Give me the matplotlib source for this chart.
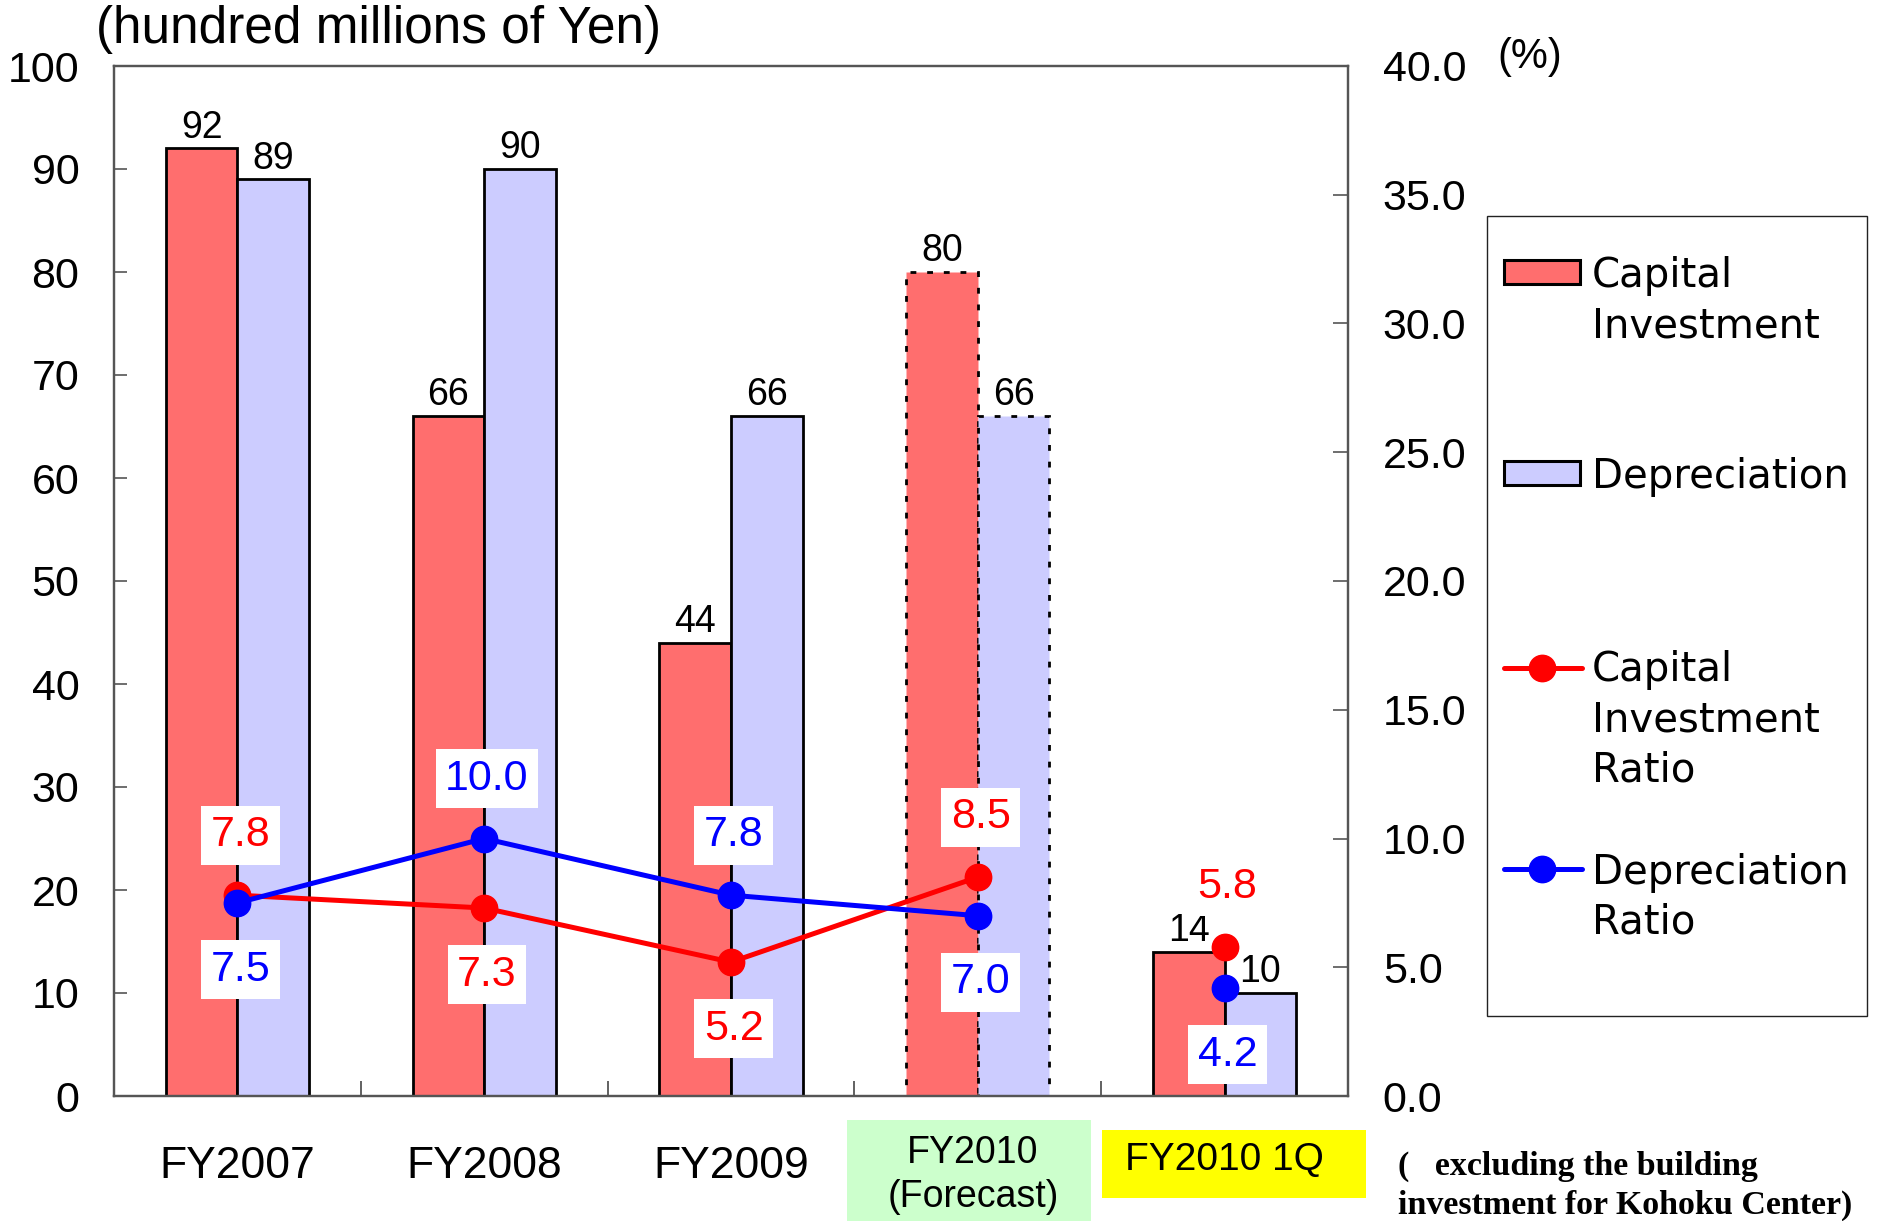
import numpy as np
import matplotlib
matplotlib.use("Agg")
import matplotlib.pyplot as plt
from matplotlib import font_manager as fm
from matplotlib.patches import Rectangle
from matplotlib.lines import Line2D
from matplotlib.transforms import blended_transform_factory
from matplotlib.ticker import FormatStrFormatter, FixedLocator

# ---- data -------------------------------------------------------------
categories = ["FY2007", "FY2008", "FY2009", "FY2010\n(Forecast)", "FY2010 1Q"]
capital_investment = [92, 66, 44, 80, 14]          # hundred millions of Yen
depreciation = [89, 90, 66, 66, 10]                # hundred millions of Yen
capital_investment_ratio = [7.8, 7.3, 5.2, 8.5, 5.8]   # %
depreciation_ratio = [7.5, 10.0, 7.8, 7.0, 4.2]        # %
forecast_index = 3
left_ticks = list(range(0, 101, 10))
right_ticks = [0, 5, 10, 15, 20, 25, 30, 35, 40]

# ---- fonts --------------------------------------------------------------
_names = {f.name for f in fm.fontManager.ttflist}
NARROW = "Liberation Sans Narrow" if "Liberation Sans Narrow" in _names else "Liberation Sans"
SANS = "Liberation Sans"
SERIF = "Liberation Serif"
plt.rcParams["font.family"] = [NARROW, "DejaVu Sans"]

W, H = 1882, 1221
fig = plt.figure(figsize=(W / 100, H / 100), dpi=100)


def fx(px):
    return px / W


def fy(py):
    return 1 - py / H


ax = fig.add_axes([fx(114), fy(1096), fx(1348) - fx(114), fy(66) - fy(1096)])
ax2 = ax.twinx()

RED_FILL = "#ff6e6e"
BLUE_FILL = "#ccccff"
x = np.arange(len(categories))
bw = 0.29

# capital investment to the left of each group centre, depreciation to the right
for i in x:
    ls = (0, (2.1, 3.9)) if i == forecast_index else "solid"
    ax.bar(i, capital_investment[i], width=-bw, align="edge", color=RED_FILL,
           edgecolor="black", linewidth=2.0, linestyle=ls, zorder=2)
    ax.bar(i, depreciation[i], width=bw, align="edge", color=BLUE_FILL,
           edgecolor="black", linewidth=2.0, linestyle=ls, zorder=2)

# value labels above bars
for i in x:
    ax.annotate(f"{capital_investment[i]}", (i - bw / 2, capital_investment[i]),
                xytext=(0, 2), textcoords="offset points", ha="center", va="bottom",
                fontsize=27)
    ax.annotate(f"{depreciation[i]}", (i + bw / 2, depreciation[i]),
                xytext=(0, 2), textcoords="offset points", ha="center", va="bottom",
                fontsize=27)

ax.set_xlim(-0.5, len(categories) - 0.5)
ax.set_ylim(0, 100)
ax.yaxis.set_major_locator(FixedLocator(left_ticks))
ax.set_xticks([])
ax.xaxis.set_minor_locator(FixedLocator(np.arange(0.5, len(categories) - 0.5)))
ax.tick_params(axis="x", which="minor", direction="in", length=11, width=1.3,
               color="#555555")
ax.tick_params(axis="y", direction="in", length=9.5, width=1.2, color="#555555",
               pad=25, labelsize=31)

ax2.set_ylim(0, 40)
ax2.yaxis.set_major_locator(FixedLocator(right_ticks))
ax2.yaxis.set_major_formatter(FormatStrFormatter("%.1f"))
ax2.tick_params(axis="y", direction="in", length=11, width=1.2, color="#555555",
                pad=25, labelsize=31)

for a in (ax, ax2):
    for s in a.spines.values():
        s.set_color("#555555")
        s.set_linewidth(1.6)

# ratio lines (annual points joined, quarter shown on its own)
n = forecast_index + 1
ax2.plot(x[:n], capital_investment_ratio[:n], color="red", lw=3.6, marker="o",
         markersize=19, zorder=3)
ax2.plot(x[:n], depreciation_ratio[:n], color="blue", lw=3.6, marker="o",
         markersize=19, zorder=4)
ax2.plot(x[n:], capital_investment_ratio[n:], color="red", lw=0, marker="o",
         markersize=19, zorder=3)
ax2.plot(x[n:], depreciation_ratio[n:], color="blue", lw=0, marker="o",
         markersize=19, zorder=4)

for i in x:
    ci, dp = capital_investment_ratio[i], depreciation_ratio[i]
    ci_up = ci > dp
    for val, col, up in ((ci, "red", ci_up), (dp, "blue", not ci_up)):
        ax2.annotate(f"{val:.1f}", (i, val),
                     xytext=(2, 43 if up else -48), textcoords="offset points",
                     ha="center", va="center", color=col, fontsize=31,
                     family=[SANS, "DejaVu Sans"], zorder=6,
                     bbox=dict(boxstyle="square,pad=0.22", fc="white", ec="none"))

# category labels below the axis
bt = blended_transform_factory(ax.transData, fig.transFigure)
fig.add_artist(Rectangle((fx(847), fy(1221)), fx(1091) - fx(847), fy(1120) - fy(1221),
                         transform=fig.transFigure, facecolor="#ccffcc",
                         edgecolor="none", zorder=0))
fig.add_artist(Rectangle((fx(1102), fy(1198)), fx(1366) - fx(1102), fy(1130) - fy(1198),
                         transform=fig.transFigure, facecolor="#ffff00",
                         edgecolor="none", zorder=0))
for i, lab in enumerate(categories):
    if i == forecast_index:
        ax.text(i - 0.02, fy(1175), lab, transform=bt, ha="center", va="center",
                fontsize=27, linespacing=1.3, clip_on=False)
    elif i == len(categories) - 1:
        ax.text(i, fy(1160), lab, transform=bt, ha="center", va="center",
                fontsize=28, clip_on=False)
    else:
        ax.text(i, fy(1166), lab, transform=bt, ha="center", va="center",
                fontsize=32, clip_on=False)

# axis titles
fig.text(fx(96), fy(30), "(hundred millions of Yen)", ha="left", va="center",
         fontsize=37)
fig.text(fx(1530), fy(57), "(%)", ha="center", va="center", fontsize=30)

# note on the exclusion
fig.text(fx(1398), fy(1186), "(   excluding the building\ninvestment for Kohoku Center)",
         ha="left", va="center", fontsize=24.5, fontweight="bold",
         family=[SERIF, "DejaVu Serif"], linespacing=1.3)

# legend
fig.add_artist(Rectangle((fx(1487), fy(1016)), fx(1867) - fx(1487), fy(216) - fy(1016),
                         transform=fig.transFigure, fill=False, edgecolor="#222222",
                         linewidth=1.0))
fig.add_artist(Rectangle((fx(1504), fy(284)), fx(1580) - fx(1504), fy(260) - fy(284),
                         transform=fig.transFigure, facecolor=RED_FILL,
                         edgecolor="black", linewidth=2.2))
fig.add_artist(Rectangle((fx(1504), fy(485)), fx(1580) - fx(1504), fy(461) - fy(485),
                         transform=fig.transFigure, facecolor=BLUE_FILL,
                         edgecolor="black", linewidth=2.2))
for yy, col in ((668, "red"), (869, "blue")):
    fig.add_artist(Line2D([fx(1504), fx(1582)], [fy(yy), fy(yy)], color=col, lw=3.6,
                          solid_capstyle="round", transform=fig.transFigure))
    fig.add_artist(Line2D([fx(1542)], [fy(yy)], color=col, marker="o", markersize=19,
                          transform=fig.transFigure))
# each label is anchored at the baseline of its last line
legend_labels = [("Capital\nInvestment", 337), ("Depreciation", 488),
                 ("Capital\nInvestment\nRatio", 781), ("Depreciation\nRatio", 934)]
for txt, base in legend_labels:
    fig.text(fx(1592), fy(base), txt, ha="left", va="baseline", fontsize=29,
             family=["DejaVu Sans"], linespacing=1.32)

fig.savefig("out.png", dpi=100, facecolor="white")
